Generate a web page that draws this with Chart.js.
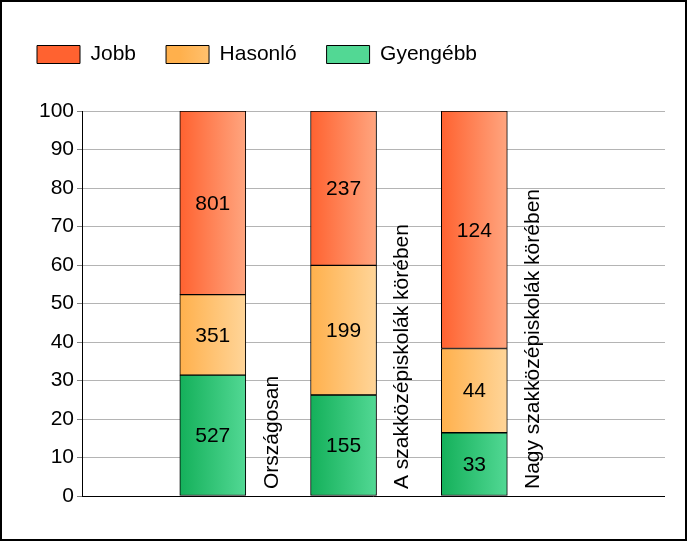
<!DOCTYPE html>
<html>
<head>
<meta charset="utf-8">
<script src="https://cdn.jsdelivr.net/npm/chart.js@4/dist/chart.umd.min.js"></script>
<style>
html,body{margin:0;padding:0;background:#fff;}
#wrap{width:687px;height:541px;position:relative;}
</style>
</head>
<body>
<div id="wrap"><canvas id="c" width="687" height="541"></canvas></div>
<script>
const categories = ['Országosan', 'A szakközépiskolák körében', 'Nagy szakközépiskolák körében'];
const seriesNames = ['Gyengébb', 'Hasonló', 'Jobb'];
const gyengebbCounts = [527, 155, 33];
const hasonloCounts = [351, 199, 44];
const jobbCounts = [801, 237, 124];
const yTicks = [0, 10, 20, 30, 40, 50, 60, 70, 80, 90, 100];

const countsList = [gyengebbCounts, hasonloCounts, jobbCounts];
const totals = categories.map((_, i) => gyengebbCounts[i] + hasonloCounts[i] + jobbCounts[i]);
const gradStops = [
  ['#14b05a', '#52d894'],
  ['#ffb04c', '#ffd599'],
  ['#ff6230', '#ffa57f']
];
const FONT = '"Liberation Sans", Arial, sans-serif';
const FS = 21;

function barGradient(si) {
  return function(ctx) {
    const chart = ctx.chart;
    if (!chart.chartArea || ctx.type !== 'data') return gradStops[si][0];
    const xs = chart.scales.x;
    const cx = xs.getPixelForValue(ctx.dataIndex + 1);
    const g = chart.ctx.createLinearGradient(cx - 33, 0, cx + 33, 0);
    g.addColorStop(0, gradStops[si][0]);
    g.addColorStop(1, gradStops[si][1]);
    return g;
  };
}

const datasets = seriesNames.map((name, si) => ({
  label: name,
  data: countsList[si].map((v, i) => ({x: i + 1, y: v / totals[i] * 100})),
  counts: countsList[si],
  stack: 's',
  backgroundColor: barGradient(si),
  borderColor: '#000',
  borderWidth: 1,
  borderSkipped: false,
  barThickness: 66
}));

const helperPlugin = {
  id: 'helper',
  beforeLayout(chart) {
    const lg = chart.legend;
    if (lg && !lg._patched) {
      const orig = lg.fit;
      lg.fit = function() { orig.call(this); this.height += 36; };
      lg._patched = true;
    }
  },
  afterLayout(chart) {
    const lg = chart.legend;
    if (!lg || !lg.legendItems || !lg.legendHitBoxes) return;
    lg.legendItems.forEach((item, i) => {
      const hb = lg.legendHitBoxes[i];
      if (!hb) return;
      const si = item.datasetIndex;
      const g = chart.ctx.createLinearGradient(hb.left, 0, hb.left + 43, 0);
      g.addColorStop(0, gradStops[si][0]);
      g.addColorStop(1, gradStops[si][1]);
      item.fillStyle = g;
    });
  },
  afterDatasetsDraw(chart) {
    const ctx = chart.ctx;
    ctx.save();
    ctx.font = FS + 'px ' + FONT;
    ctx.fillStyle = '#000';
    ctx.textAlign = 'center';
    ctx.textBaseline = 'middle';
    chart.data.datasets.forEach((ds, di) => {
      const meta = chart.getDatasetMeta(di);
      meta.data.forEach((el, i) => {
        ctx.fillText(String(ds.counts[i]), el.x, (el.y + el.base) / 2 + 1);
      });
    });
    const xs = chart.scales.x, ys = chart.scales.y;
    categories.forEach((c, i) => {
      const px = xs.getPixelForValue(i + 1) + 59;
      const py = ys.getPixelForValue(0) - 7;
      ctx.save();
      ctx.translate(px, py);
      ctx.rotate(-Math.PI / 2);
      ctx.textAlign = 'left';
      ctx.textBaseline = 'middle';
      ctx.fillText(c, 0, 0);
      ctx.restore();
    });
    const y0 = ys.getPixelForValue(0);
    ctx.strokeStyle = '#000';
    ctx.lineWidth = 1;
    ctx.beginPath();
    ctx.moveTo(chart.chartArea.left, Math.round(y0) + 0.5);
    ctx.lineTo(chart.chartArea.right, Math.round(y0) + 0.5);
    ctx.stroke();
    ctx.restore();
  },
  afterDraw(chart) {
    const ctx = chart.ctx;
    ctx.save();
    ctx.strokeStyle = '#000';
    ctx.lineWidth = 2;
    ctx.strokeRect(1, 1, chart.width - 2, chart.height - 2);
    ctx.restore();
  }
};

new Chart(document.getElementById('c'), {
  type: 'bar',
  data: { datasets },
  options: {
    responsive: false,
    animation: false,
    layout: { padding: { left: 7, right: 22, top: 14, bottom: 45 } },
    scales: {
      x: {
        type: 'linear',
        display: false,
        offset: false,
        grid: { offset: false },
        min: 0,
        max: 4.458
      },
      y: {
        stacked: true,
        min: 0,
        max: 100,
        afterFit(scale) { scale.width = 75; },
        afterBuildTicks(scale) { scale.ticks = yTicks.map(v => ({value: v})); },
        ticks: {
          color: '#000',
          font: { family: FONT, size: FS },
          padding: 3
        },
        grid: {
          color: '#b4b4b4',
          tickColor: '#808080',
          tickLength: 5,
          drawTicks: true
        },
        border: { display: true, color: '#000', width: 1 }
      }
    },
    plugins: {
      legend: {
        display: true,
        position: 'top',
        align: 'start',
        reverse: true,
        labels: {
          boxWidth: 43,
          boxHeight: 18,
          padding: 30,
          color: '#000',
          font: { family: FONT, size: FS }
        }
      },
      tooltip: { enabled: false }
    }
  },
  plugins: [helperPlugin]
});
</script>
</body>
</html>
